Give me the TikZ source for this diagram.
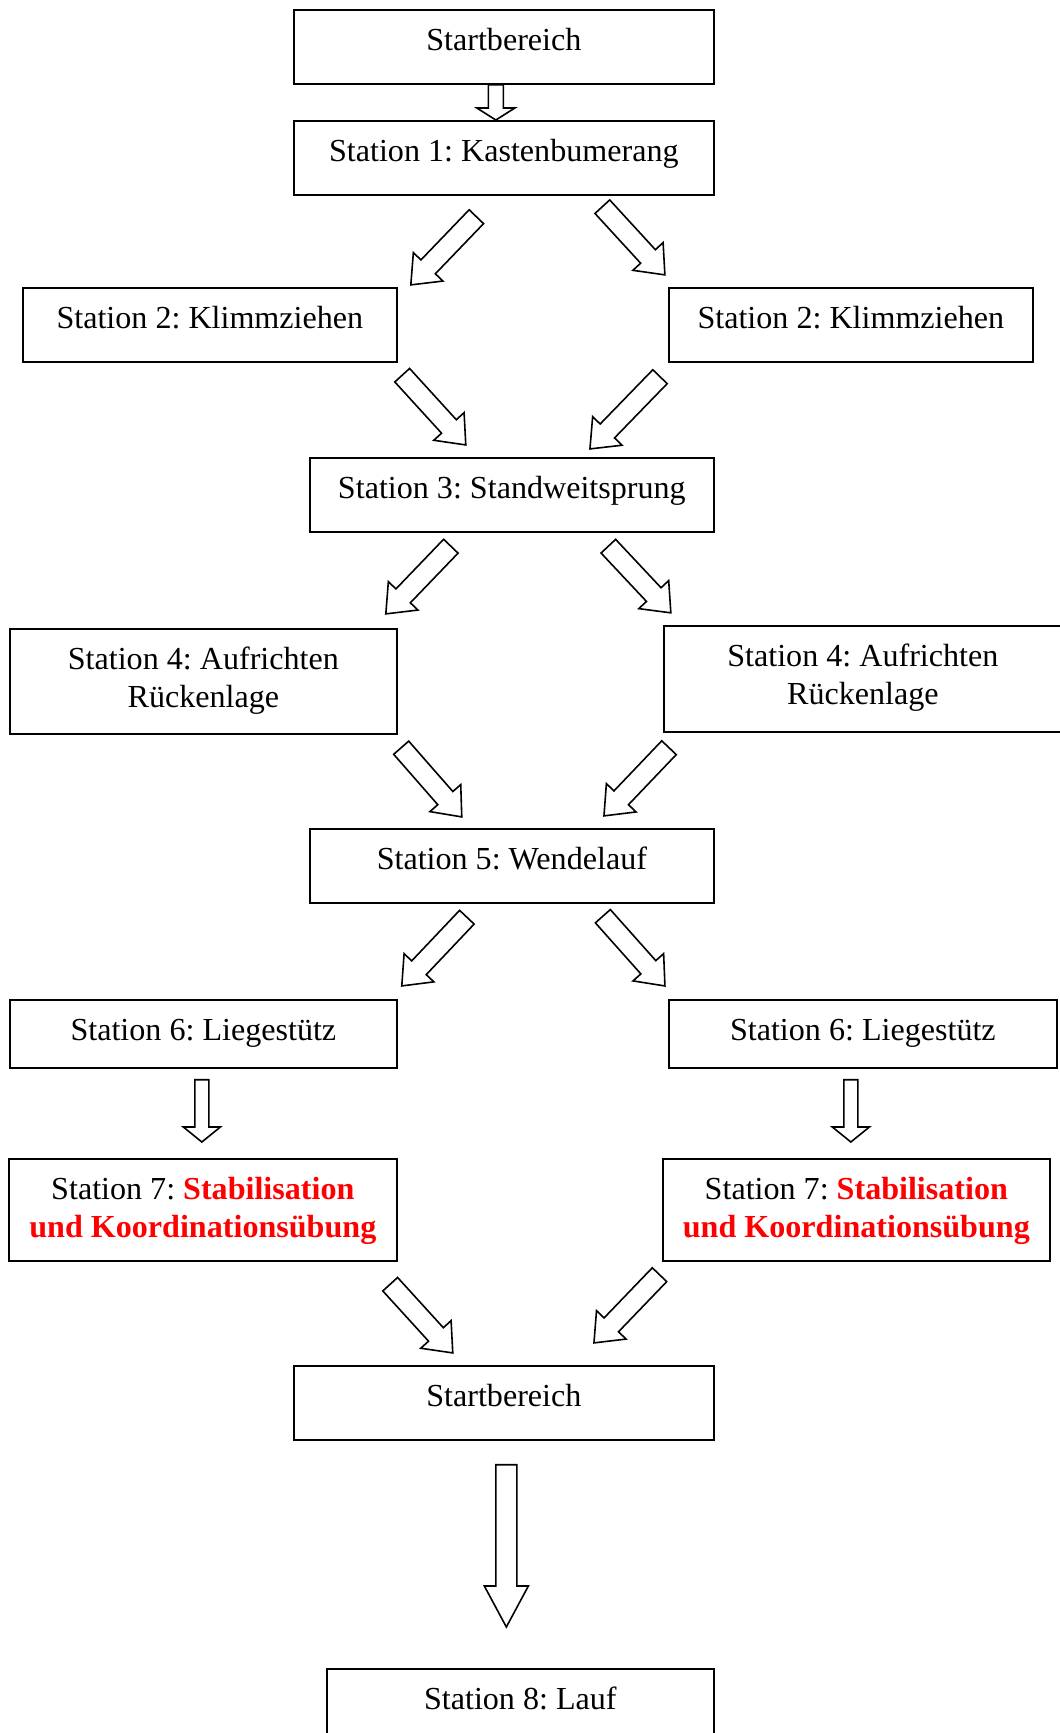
\documentclass[tikz,border=0pt]{standalone}
\usepackage{fontspec}
\setmainfont{Liberation Serif}
\usepackage{tikz}
\usetikzlibrary{calc}
\frenchspacing
\definecolor{stred}{RGB}{255,0,0}
\newcommand{\boxfont}{\fontsize{32.1}{37.5}\selectfont}
\tikzset{%
    box/.style={draw, line width=1.7pt, anchor=north west, inner sep=0pt, align=center, font=\boxfont, text height=41pt, text depth=33pt},
    twobox/.style={box, text height=78.5pt},
    arrowline/.style={draw=black, fill=white, line width=1.6pt, line join=miter}
}
% hollow block arrow: tail, tip, shaft width, head width, head length
\newcommand{\blockarrow}[5]{%
    \coordinate (ba-tail) at #1;
    \coordinate (ba-tip) at #2;
    \draw[arrowline] let \p1=($(ba-tip)-(ba-tail)$), \n1={atan2(\y1,\x1)}, \n2={veclen(\x1,\y1)} in
        [shift={(ba-tail)}, rotate=\n1]
        (0,#3/2) -- (\n2-#5,#3/2) -- (\n2-#5,#4/2) -- (\n2,0) -- (\n2-#5,-#4/2) -- (\n2-#5,-#3/2) -- (0,-#3/2) -- cycle;
}

\begin{document}
\begin{tikzpicture}[x=1pt, y=-1pt]
        \useasboundingbox (0,0) rectangle (1060,1733);

        \node[box, minimum width=420pt] (s0) at (293,9){Startbereich};
        \node[box, minimum width=420pt] (s1) at (293,120){Station 1: Kastenbumerang};

        \node[box, minimum width=374pt] (s2a) at (22,287){Station 2: Klimmziehen};
        \node[box, minimum width=364pt] (s2b) at (668,287){Station 2: Klimmziehen};

        \node[box, minimum width=404pt] (s3) at (309,457){Station 3: Standweitsprung};

        \node[twobox, minimum width=387pt, text depth=26.5pt] (s4a) at (9,628){Station 4: Aufrichten\\R\"uckenlage};
        \node[twobox, minimum width=398pt, text depth=27.5pt] (s4b) at (663,625){Station 4: Aufrichten\\R\"uckenlage};

        \node[box, minimum width=404pt] (s5) at (309,828){Station 5: Wendelauf};

        \node[box, minimum width=387pt, text depth=27pt] (s6a) at (9,999){Station 6: Liegest\"utz};
        \node[box, minimum width=388pt, text depth=27pt] (s6b) at (668,999){Station 6: Liegest\"utz};

        \node[twobox, minimum width=388pt, text depth=23.5pt] (s7a) at (8,1158){Station 7: \textcolor{stred}{\textbf{Stabilisation}}\\\textcolor{stred}{\textbf{und Koordinations\"ubung}}};
        \node[twobox, minimum width=387pt, text depth=23.5pt] (s7b) at (662,1158){Station 7: \textcolor{stred}{\textbf{Stabilisation}}\\\textcolor{stred}{\textbf{und Koordinations\"ubung}}};

        \node[box, minimum width=420pt] (s0b) at (293,1365){Startbereich};
        \node[box, minimum width=387pt] (s8) at (326,1668){Station 8: Lauf};

        \blockarrow{($(s0.south)+(-8,0)$)}{($(s1.north)+(-8,0)$)}{15}{38}{12}

        \blockarrow{($(s1.south)+(-27.5,21)$)}{($(s2a.north east)+(13,-2)$)}{20}{41}{25}
        \blockarrow{($(s1.south)+(98.5,11)$)}{($(s2b.north west)+(-3,-12)$)}{20}{41}{25}

        \blockarrow{($(s2a.south east)+(4.5,12.5)$)}{($(s3.north)+(-46,-12)$)}{20}{41}{25}
        \blockarrow{($(s2b.south west)+(-8,14)$)}{($(s3.north)+(78,-8)$)}{20}{41}{25}

        \blockarrow{($(s3.south)+(-61,13.5)$)}{($(s4a.north east)+(-12,-14)$)}{20}{41}{25}
        \blockarrow{($(s3.south)+(96.5,13.5)$)}{($(s4b.north west)+(8,-12)$)}{20}{41}{25}

        \blockarrow{($(s4a.south east)+(3.5,13)$)}{($(s5.north)+(-50,-11)$)}{20}{41}{25}
        \blockarrow{($(s4b.south west)+(6,15)$)}{($(s5.north)+(92,-12)$)}{20}{41}{25}

        \blockarrow{($(s5.south)+(-45,13.5)$)}{($(s6a.north east)+(4,-13)$)}{20}{41}{25}
        \blockarrow{($(s5.south)+(91,12.5)$)}{($(s6b.north west)+(-3,-13)$)}{20}{41}{25}

        \blockarrow{($(s6a.south)+(-1.5,11)$)}{($(s7a.north)+(-1,-16)$)}{14}{37}{15}
        \blockarrow{($(s6b.south)+(-12,11)$)}{($(s7b.north)+(-5.5,-16)$)}{14}{37}{15}

        \blockarrow{($(s7a.south east)+(-7.5,22.5)$)}{($(s0b.north)+(-51,-12)$)}{20}{41}{25}
        \blockarrow{($(s7b.south west)+(-2.5,13)$)}{($(s0b.north)+(90,-22)$)}{20}{41}{25}

        \blockarrow{($(s0b.south)+(2.5,24)$)}{($(s8.north)+(-14,-41)$)}{21}{44}{41}
    \end{tikzpicture}
\end{document}
